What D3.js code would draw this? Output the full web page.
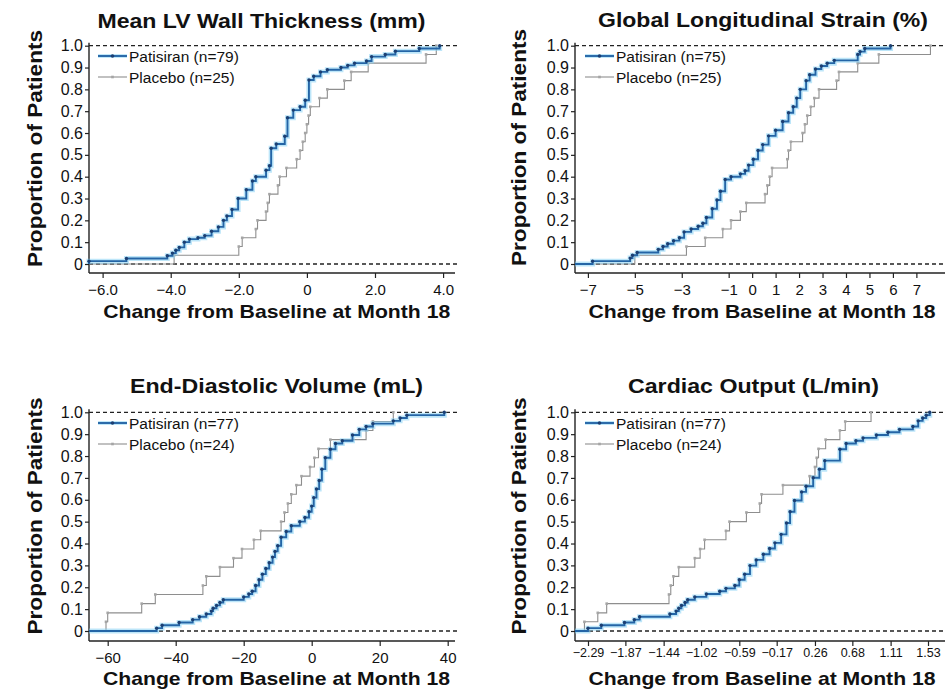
<!DOCTYPE html>
<html><head><meta charset="utf-8">
<script src="https://cdn.jsdelivr.net/npm/d3@7"></script>
<style>
body{margin:0;background:#fff}
svg{display:block}
text{font-family:"Liberation Sans",Arial,Helvetica,sans-serif;fill:#111}
</style>
</head><body>
<svg id="chart" width="946" height="692"></svg>
<script>
// ---------- tick labels / categories ----------
const yTicks = [0, 0.1, 0.2, 0.3, 0.4, 0.5, 0.6, 0.7, 0.8, 0.9, 1.0];
const lvwtTicks = [-6, -4, -2, 0, 2, 4];
const glsTicks = [-7, -5, -3, -1, 0, 1, 2, 3, 4, 5, 6, 7];
const edvTicks = [-60, -40, -20, 0, 20, 40];
const coTicks = [-2.29, -1.87, -1.44, -1.02, -0.59, -0.17, 0.26, 0.68, 1.11, 1.53];
const panelTitles = ["Mean LV Wall Thickness (mm)", "Global Longitudinal Strain (%)", "End-Diastolic Volume (mL)", "Cardiac Output (L/min)"];
const patisiranLabels = ["Patisiran (n=79)", "Patisiran (n=75)", "Patisiran (n=77)", "Patisiran (n=77)"];
const placeboLabels = ["Placebo (n=25)", "Placebo (n=25)", "Placebo (n=24)", "Placebo (n=24)"];
const xTitle = "Change from Baseline at Month 18";
const yTitle = "Proportion of Patients";

// ---------- series values: [change, cumulative proportion] ----------
const lvwtPatisiran = [[-6.4,0.013],[-5.3,0.025],[-4.1,0.038],[-3.95,0.05],[-3.85,0.063],[-3.75,0.076],[-3.6,0.1],[-3.45,0.114],[-3.2,0.12],[-3.0,0.13],[-2.8,0.15],[-2.6,0.17],[-2.45,0.2],[-2.35,0.22],[-2.2,0.25],[-2.02,0.3],[-1.78,0.34],[-1.6,0.38],[-1.5,0.4],[-1.2,0.43],[-1.1,0.45],[-1.05,0.53],[-0.9,0.55],[-0.65,0.585],[-0.57,0.67],[-0.4,0.705],[-0.2,0.72],[-0.05,0.75],[0.06,0.843],[0.2,0.86],[0.4,0.88],[0.6,0.89],[1.0,0.9],[1.2,0.91],[1.4,0.92],[1.75,0.93],[1.9,0.95],[2.3,0.96],[2.6,0.975],[3.3,0.987],[3.9,1.0]];
const lvwtPlacebo = [[-3.9,0.04],[-2.0,0.08],[-1.9,0.12],[-1.5,0.16],[-1.45,0.2],[-1.2,0.24],[-1.15,0.28],[-1.1,0.32],[-0.85,0.36],[-0.8,0.4],[-0.6,0.44],[-0.3,0.48],[-0.2,0.52],[-0.12,0.56],[-0.05,0.6],[0.0,0.64],[0.05,0.68],[0.1,0.72],[0.37,0.76],[0.6,0.8],[1.1,0.84],[1.3,0.88],[1.8,0.92],[3.5,0.96],[3.8,1.0]];
const glsPatisiran = [[-6.8,0.013],[-5.2,0.027],[-5.1,0.04],[-4.9,0.053],[-4.0,0.067],[-3.8,0.08],[-3.6,0.093],[-3.35,0.107],[-3.1,0.12],[-2.9,0.147],[-2.6,0.16],[-2.3,0.173],[-2.1,0.187],[-1.95,0.213],[-1.7,0.253],[-1.5,0.293],[-1.35,0.333],[-1.15,0.387],[-0.9,0.4],[-0.5,0.413],[-0.3,0.427],[-0.15,0.453],[0.05,0.48],[0.25,0.52],[0.45,0.547],[0.7,0.587],[1.0,0.613],[1.3,0.653],[1.55,0.693],[1.75,0.72],[1.9,0.76],[2.05,0.8],[2.3,0.84],[2.45,0.867],[2.7,0.893],[2.95,0.907],[3.2,0.92],[3.5,0.933],[4.5,0.96],[4.6,0.973],[4.8,0.987],[5.9,1.0]];
const glsPlacebo = [[-5.0,0.04],[-2.8,0.08],[-2.0,0.12],[-1.25,0.16],[-0.9,0.2],[-0.5,0.24],[-0.25,0.28],[0.55,0.32],[0.65,0.36],[0.75,0.4],[0.85,0.44],[1.5,0.48],[1.55,0.52],[1.65,0.56],[2.15,0.6],[2.25,0.64],[2.35,0.68],[2.5,0.72],[2.65,0.76],[2.85,0.8],[3.6,0.84],[3.7,0.88],[4.5,0.92],[5.4,0.96],[7.6,1.0]];
const edvPatisiran = [[-45.6,0.013],[-44,0.026],[-39,0.039],[-35,0.052],[-33,0.065],[-31,0.078],[-29.5,0.091],[-29,0.104],[-28,0.117],[-27,0.13],[-26,0.143],[-20,0.156],[-18.5,0.169],[-17.5,0.182],[-16.5,0.208],[-15.5,0.234],[-14.5,0.26],[-13.5,0.286],[-12.5,0.312],[-11.5,0.338],[-10.8,0.364],[-10,0.39],[-9,0.429],[-7.5,0.455],[-6,0.481],[-3.5,0.5],[-2,0.519],[-0.8,0.545],[0.0,0.571],[0.6,0.61],[1.4,0.649],[2.2,0.688],[3,0.74],[4,0.792],[5.5,0.831],[7,0.857],[9,0.87],[12,0.896],[14,0.922],[16,0.935],[18,0.948],[24,0.961],[26,0.974],[28,0.987],[39,1.0]];
const edvPlacebo = [[-60.5,0.042],[-60,0.083],[-50,0.125],[-46,0.167],[-32,0.208],[-31,0.25],[-27,0.292],[-23,0.333],[-20.5,0.375],[-17,0.417],[-15,0.458],[-9,0.5],[-8,0.542],[-7,0.583],[-6,0.625],[-4.5,0.667],[-3,0.708],[-0.5,0.75],[0.8,0.792],[2,0.833],[5.5,0.875],[16,0.917],[18,0.958],[24,1.0]];
const coPatisiran = [[-2.29,0.013],[-2.14,0.026],[-1.88,0.039],[-1.77,0.052],[-1.71,0.065],[-1.37,0.078],[-1.3,0.091],[-1.27,0.104],[-1.24,0.117],[-1.2,0.13],[-1.17,0.143],[-1.09,0.156],[-0.96,0.169],[-0.81,0.182],[-0.74,0.195],[-0.64,0.208],[-0.59,0.234],[-0.53,0.26],[-0.47,0.299],[-0.4,0.325],[-0.32,0.351],[-0.25,0.377],[-0.19,0.403],[-0.12,0.442],[-0.06,0.494],[-0.02,0.545],[0.03,0.597],[0.11,0.636],[0.16,0.662],[0.24,0.701],[0.31,0.74],[0.37,0.779],[0.54,0.831],[0.61,0.857],[0.72,0.87],[0.8,0.883],[0.95,0.896],[1.08,0.909],[1.21,0.922],[1.36,0.935],[1.42,0.961],[1.47,0.974],[1.51,0.987],[1.55,1.0]];
const coPlacebo = [[-2.33,0.042],[-2.18,0.083],[-2.08,0.125],[-1.38,0.167],[-1.36,0.208],[-1.33,0.25],[-1.27,0.292],[-1.09,0.333],[-1.03,0.375],[-0.98,0.417],[-0.74,0.458],[-0.7,0.5],[-0.51,0.542],[-0.36,0.583],[-0.34,0.625],[-0.1,0.667],[0.2,0.708],[0.26,0.75],[0.28,0.792],[0.3,0.833],[0.38,0.875],[0.54,0.917],[0.6,0.958],[0.89,1.0]];

// ---------- layout (positions only) ----------
const panels = [
  {title:panelTitles[0], pat:lvwtPatisiran, pla:lvwtPlacebo, ticks:lvwtTicks, fmt:d=>d===0?"0":d3.format(".1f")(d), xdom:[-6.4,4.35], xr:[89,455], yr:[264,45.7], bottom:273, tFs:15, tPad:6,
   titleX:261.5, titleY:28, titleLen:328, axX:276.7, axY:318, ylX:41.7, ylY:148.5, legX:98, legY:56},
  {title:panelTitles[1], pat:glsPatisiran, pla:glsPlacebo, ticks:glsTicks, fmt:d3.format("d"), xdom:[-7.55,8.22], xr:[575,945], yr:[264,45.7], bottom:273, tFs:15, tPad:6,
   titleX:763, titleY:27, titleLen:330, axX:762, axY:318, ylX:526, ylY:147.5, legX:585, legY:56},
  {title:panelTitles[2], pat:edvPatisiran, pla:edvPlacebo, ticks:edvTicks, fmt:d3.format("d"), xdom:[-65.5,42.15], xr:[89,455], yr:[631,412.3], bottom:641, tFs:15, tPad:6,
   titleX:276.5, titleY:393, titleLen:293, axX:276.5, axY:685, ylX:41.7, ylY:516, legX:98, legY:423},
  {title:panelTitles[3], pat:coPatisiran, pla:coPlacebo, ticks:coTicks, fmt:d3.format(".2f"), xdom:[-2.436,1.721], xr:[575,945], yr:[631,412.3], bottom:641, tFs:12.5, tPad:2.5,
   titleX:753.5, titleY:393, titleLen:251, axX:762, axY:685, ylX:526, ylY:516, legX:585, legY:423}
];

const svg = d3.select("#chart");
svg.append("rect").attr("width",946).attr("height",692).attr("fill","#fff");

const BLUE = "#2465a6", GLOW = "#86d2f4", DOT = "#1c3f72", GRAY = "#8e8e8e";

panels.forEach((p, i) => {
  const g = svg.append("g");
  const x = d3.scaleLinear().domain(p.xdom).range(p.xr);
  const y = d3.scaleLinear().domain([0,1]).range(p.yr);
  const x0 = p.xr[0], x1 = p.xr[1];

  // reference dashed lines at 0 and 1
  [0,1].forEach(v => {
    g.append("line").attr("x1",x0).attr("x2",x1+2).attr("y1",y(v)).attr("y2",y(v))
      .attr("stroke","#222").attr("stroke-width",1.3).attr("stroke-dasharray","4,3");
  });

  // axes
  const xa = g.append("g").attr("transform",`translate(0,${p.bottom})`)
    .call(d3.axisBottom(x).tickValues(p.ticks).tickFormat(p.fmt).tickSize(5).tickPadding(p.tPad));
  xa.select(".domain").remove();
  xa.selectAll("line").attr("stroke","#222").attr("stroke-width",1.2);
  xa.selectAll("text").attr("font-size",p.tFs).attr("fill","#111").style("font-family",'"Liberation Sans",Arial,sans-serif');

  const ya = g.append("g").attr("transform",`translate(${x0},0)`)
    .call(d3.axisLeft(y).tickValues(yTicks).tickFormat(d=>d===0?"0":d3.format(".1f")(d)).tickSize(4).tickPadding(2));
  ya.select(".domain").remove();
  ya.selectAll("line").attr("stroke","#222").attr("stroke-width",1.2);
  ya.selectAll("text").attr("font-size",16).attr("fill","#111").style("font-family",'"Liberation Sans",Arial,sans-serif');

  g.append("line").attr("x1",x0).attr("x2",x1).attr("y1",p.bottom).attr("y2",p.bottom).attr("stroke","#222").attr("stroke-width",1.4);
  g.append("line").attr("x1",x0).attr("x2",x0).attr("y1",p.bottom).attr("y2",y(1)-3).attr("stroke","#222").attr("stroke-width",1.4);

  // step curves
  const line = d3.line().x(d=>x(d[0])).y(d=>y(d[1])).curve(d3.curveStepAfter);
  const plaPts = [[p.xdom[0],0]].concat(p.pla);
  const patPts = [[p.xdom[0],0]].concat(p.pat);

  g.append("path").attr("d",line(plaPts)).attr("fill","none").attr("stroke",GRAY).attr("stroke-width",1.1);
  g.selectAll(".plm").data(p.pla).enter().append("rect").attr("class","plm")
    .attr("x",d=>x(d[0])-1.3).attr("y",d=>y(d[1])-1.3).attr("width",2.6).attr("height",2.6).attr("fill","#a5a5a5");

  g.append("path").attr("d",line(patPts)).attr("fill","none").attr("stroke",GLOW).attr("stroke-width",5).attr("stroke-opacity",0.55);
  g.append("path").attr("d",line(patPts)).attr("fill","none").attr("stroke",BLUE).attr("stroke-width",1.9);
  g.selectAll(".ptm").data(p.pat).enter().append("circle").attr("class","ptm")
    .attr("cx",d=>x(d[0])).attr("cy",d=>y(d[1])).attr("r",1.7).attr("fill",DOT);

  // legend
  const lx = p.legX, lw = 29;
  g.append("line").attr("x1",lx).attr("x2",lx+lw).attr("y1",p.legY).attr("y2",p.legY).attr("stroke",GLOW).attr("stroke-width",4).attr("stroke-opacity",0.5);
  g.append("line").attr("x1",lx).attr("x2",lx+lw).attr("y1",p.legY).attr("y2",p.legY).attr("stroke",BLUE).attr("stroke-width",1.9);
  g.append("circle").attr("cx",lx+lw/2).attr("cy",p.legY).attr("r",1.8).attr("fill",DOT);
  g.append("text").attr("x",lx+lw+2).attr("y",p.legY+5.5).attr("font-size",15.5).text(patisiranLabels[i]);
  g.append("line").attr("x1",lx).attr("x2",lx+lw).attr("y1",p.legY+21).attr("y2",p.legY+21).attr("stroke",GRAY).attr("stroke-width",1.1);
  g.append("rect").attr("x",lx+lw/2-1.3).attr("y",p.legY+21-1.3).attr("width",2.6).attr("height",2.6).attr("fill","#a5a5a5");
  g.append("text").attr("x",lx+lw+2).attr("y",p.legY+26.5).attr("font-size",15.5).text(placeboLabels[i]);

  // titles
  g.append("text").attr("x",p.titleX).attr("y",p.titleY).attr("text-anchor","middle")
    .attr("font-size",20).attr("font-weight","bold").attr("textLength",p.titleLen).attr("lengthAdjust","spacingAndGlyphs").text(p.title);
  g.append("text").attr("x",p.axX).attr("y",p.axY).attr("text-anchor","middle")
    .attr("font-size",19).attr("font-weight","bold").attr("textLength",347).attr("lengthAdjust","spacingAndGlyphs").text(xTitle);
  g.append("text").attr("transform",`translate(${p.ylX},${p.ylY}) rotate(-90)`).attr("text-anchor","middle")
    .attr("font-size",21).attr("font-weight","bold").attr("textLength",237).attr("lengthAdjust","spacingAndGlyphs").text(yTitle);
});
</script>
</body></html>
